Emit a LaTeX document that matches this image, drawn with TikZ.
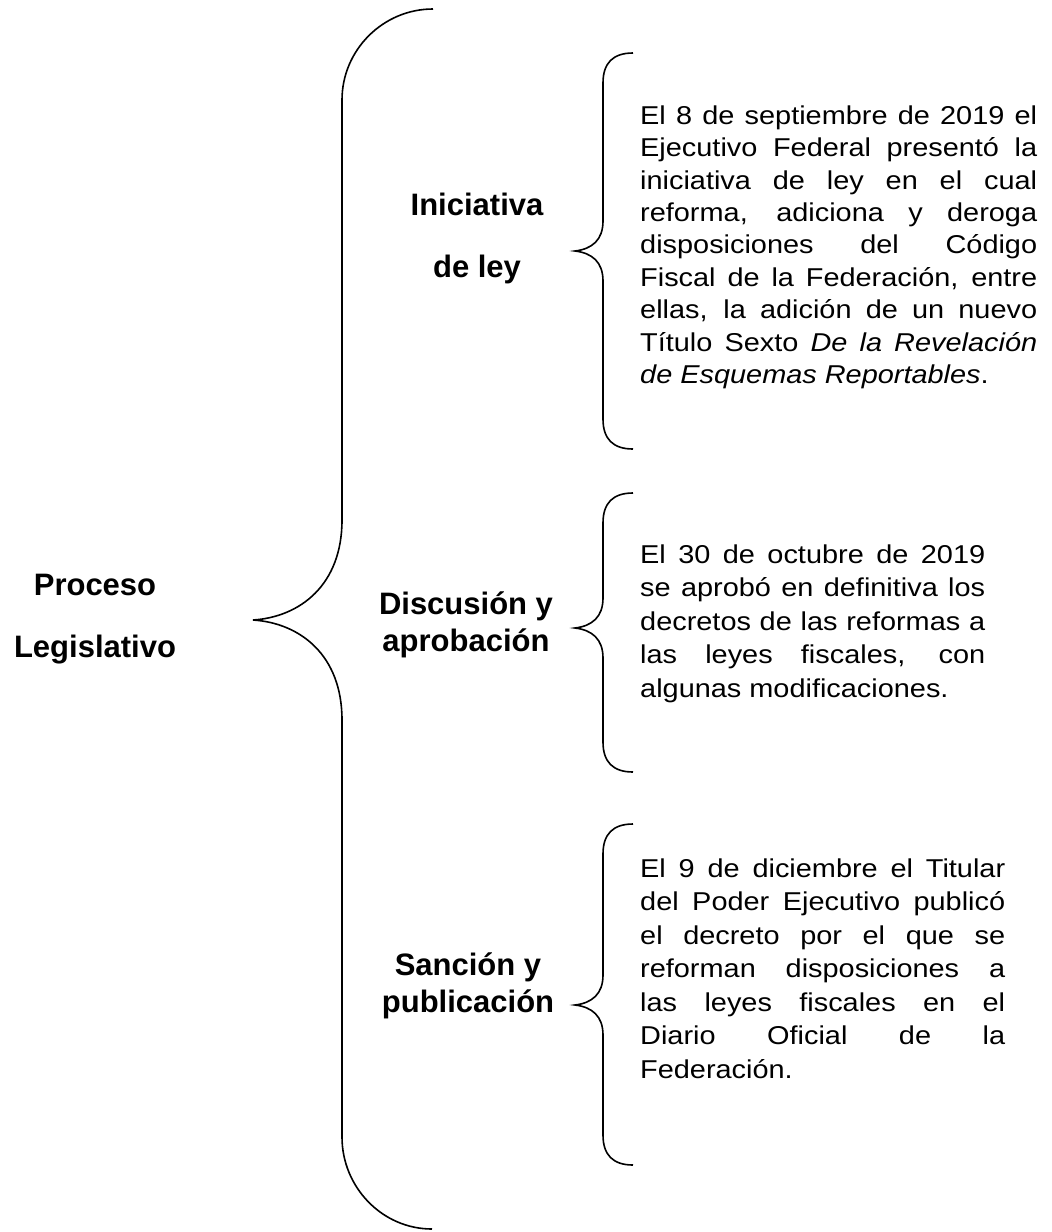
\documentclass[tikz,border=0pt]{standalone}
\usepackage{fontspec}
\setmainfont{Liberation Sans}
\newfontfamily\cuerpo[FakeStretch=1.12]{Liberation Sans}
\tolerance=9999
\hyphenpenalty=10000
\tikzset{>=latex}
\tikzset{
    llave/.style={black, line width=1.6pt},
    titulo/.style={anchor=center, inner sep=0pt, align=center, font=\bfseries\fontsize{31}{#1}\selectfont},
    parrafo/.style={anchor=north west, inner sep=0pt, align=justify, font=\cuerpo\fontsize{25.8}{#1}\selectfont},
}

\begin{document}
\begin{tikzpicture}[x=1pt, y=-1pt]
    \useasboundingbox (0,0) rectangle (1052,1232);

    % llave grande
    \draw[llave] (433,9) .. controls (383,9) and (342,50) .. (342,100) -- (342,520) .. controls (342,585) and (300,617) .. (253,620) .. controls (300,623) and (342,655) .. (342,720) -- (342,1137) .. controls (342,1187) and (382,1229) .. (432,1229);

    % llaves chicas
    \draw[llave] (633,53) .. controls (613,53) and (603,63) .. (603,83) -- (603,221) .. controls (603,240) and (592,249) .. (575,251) .. controls (592,253) and (603,262) .. (603,281) -- (603,419) .. controls (603,439) and (613,449) .. (633,449);
    \draw[llave] (633,493) .. controls (613,493) and (603,503) .. (603,523) -- (603,598) .. controls (603,617) and (592,626) .. (575,628) .. controls (592,630) and (603,639) .. (603,658) -- (603,742) .. controls (603,762) and (613,772) .. (633,772);
    \draw[llave] (633,824) .. controls (613,824) and (603,834) .. (603,854) -- (603,975) .. controls (603,994) and (592,1003) .. (575,1005) .. controls (592,1007) and (603,1016) .. (603,1035) -- (603,1135) .. controls (603,1155) and (613,1165) .. (633,1165);

    \node[titulo=62] (proceso) at (95,619) {Proceso\\Legislativo};
    \node[titulo=62] (iniciativa) at (477,238) {Iniciativa\\de ley};
    \node[titulo=37] (discusion) at (466,625) {Discusión y\\aprobación};
    \node[titulo=37] (sancion) at (468,986) {Sanción y\\publicación};

    \node[parrafo=32.4, text width=397pt] (texto1) at (640,105.5) {El 8 de septiembre de 2019 el\linebreak Ejecutivo Federal presentó la\linebreak iniciativa de ley en el cual\linebreak reforma, adiciona y deroga\linebreak disposiciones del Código\linebreak Fiscal de la Federación, entre\linebreak ellas, la adición de un nuevo\linebreak Título Sexto \textit{De la Revelación\linebreak de Esquemas Reportables}.};
    \node[parrafo=33.5, text width=345pt] (texto2) at (640,544.5) {El 30 de octubre de 2019\linebreak se aprobó en definitiva los\linebreak decretos de las reformas a\linebreak las leyes fiscales, con\linebreak algunas modificaciones.};
    \node[parrafo=33.5, text width=365pt] (texto3) at (640,858.5) {El 9 de diciembre el Titular\linebreak del Poder Ejecutivo publicó\linebreak el decreto por el que se\linebreak reforman disposiciones a\linebreak las leyes fiscales en el\linebreak Diario Oficial de la\linebreak Federación.};
\end{tikzpicture}
\end{document}
